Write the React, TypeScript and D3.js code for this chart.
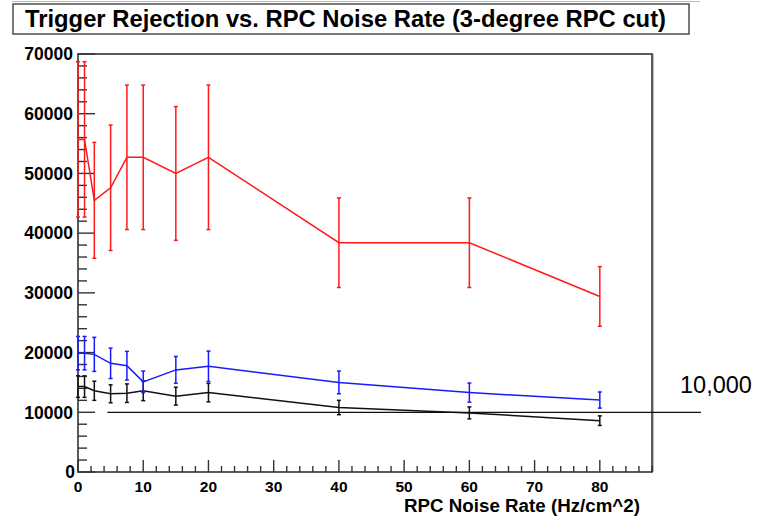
import React from "react";
import * as d3 from "d3";

const noiseRates = [0, 1, 2.5, 5, 7.5, 10, 15, 20, 40, 60, 80];
const redValues = [55700, 55700, 45500, 47600, 52700, 52700, 50000, 52700, 38400, 38400, 29400];
const redErrors = [13000, 13000, 9700, 10500, 12100, 12100, 11200, 12100, 7500, 7500, 5000];
const blueValues = [19900, 19900, 19700, 18200, 17800, 15100, 17100, 17700, 15000, 13300, 12050];
const blueErrors = [2800, 2800, 2850, 2550, 2400, 1800, 2250, 2550, 1900, 1600, 1350];
const blackValues = [14300, 14300, 13600, 13100, 13200, 13600, 12700, 13300, 10800, 9900, 8600];
const blackErrors = [1800, 1800, 1600, 1500, 1550, 1650, 1500, 1550, 1200, 1000, 800];

const xTickLabels = [0, 10, 20, 30, 40, 50, 60, 70, 80];
const yTickLabels = [0, 10000, 20000, 30000, 40000, 50000, 60000, 70000];
const thresholdValue = 10000;
const thresholdStart = 4.5;
const thresholdLabel = "10,000";
const title = "Trigger Rejection vs. RPC Noise Rate (3-degree RPC cut)";
const xTitle = "RPC Noise Rate (Hz/cm^2)";

const W = 757;
const H = 519;
const L = 78, R = 652, T = 54, B = 472;

export default function App() {
  const x = d3.scaleLinear().domain([0, 88]).range([L, R]);
  const y = d3.scaleLinear().domain([0, 70000]).range([B, T]);
  const line = d3.line<[number, number]>().x((d) => x(d[0])).y((d) => y(d[1]));

  const series = [
    { vals: blackValues, errs: blackErrors, color: "#111" },
    { vals: blueValues, errs: blueErrors, color: "#1a1aff" },
    { vals: redValues, errs: redErrors, color: "#ff1a1a" },
  ];

  const xMinor = d3.range(0, 88.01, 2);
  const yMinor = d3.range(0, 70001, 2000);
  const font = "'Liberation Sans', Arial, Helvetica, sans-serif";

  return (
    <svg
      width={W}
      height={H}
      style={{ position: "absolute", left: 0, top: 0, background: "#fff" }}
      fontFamily={font}
    >
      <rect x={0} y={0} width={W} height={H} fill="#fff" />
      {/* top grey line and title box */}
      <line x1={12} x2={700} y1={1.5} y2={1.5} stroke="#bbb" strokeWidth={1} />
      <rect x={13} y={4} width={676} height={30} fill="#fff" stroke="#333" strokeWidth={1.3} />
      <text
        x={25}
        y={27}
        fontSize={23}
        fontWeight="bold"
        textLength={641}
        lengthAdjust="spacingAndGlyphs"
        fill="#000"
      >
        {title}
      </text>

      {/* frame */}
      <line x1={R + 1.5} x2={R + 1.5} y1={T} y2={B} stroke="#bbb" strokeWidth={1} />
      <rect x={L} y={T} width={R - L} height={B - T} fill="none" stroke="#333" strokeWidth={1.6} />

      {/* y ticks */}
      {yMinor.map((v) => {
        const major = v % 10000 === 0;
        return (
          <line key={"yt" + v} x1={L} x2={L + (major ? 17 : 9)} y1={y(v)} y2={y(v)} stroke="#333" strokeWidth={1.4} />
        );
      })}
      {/* x ticks */}
      {xMinor.map((v) => {
        const major = v % 10 === 0;
        return (
          <line key={"xt" + v} x1={x(v)} x2={x(v)} y1={B} y2={B - (major ? 12 : 6)} stroke="#333" strokeWidth={1.4} />
        );
      })}

      {/* y labels */}
      {yTickLabels.map((v) => (
        <text
          key={"yl" + v}
          x={v === 0 ? 75 : 73}
          y={y(v)}
          dy="0.36em"
          textAnchor="end"
          fontSize={17.5}
          fontWeight="bold"
        >
          {v}
        </text>
      ))}
      {/* x labels */}
      {xTickLabels.map((v) => (
        <text key={"xl" + v} x={x(v)} y={492} textAnchor="middle" fontSize={15.5} fontWeight="bold">
          {v}
        </text>
      ))}
      <text x={640} y={512} textAnchor="end" fontSize={17.5} fontWeight="bold" textLength={236} lengthAdjust="spacingAndGlyphs">
        {xTitle}
      </text>

      {/* threshold line */}
      <line
        x1={x(thresholdStart)}
        x2={701}
        y1={y(thresholdValue)}
        y2={y(thresholdValue)}
        stroke="#111"
        strokeWidth={1.2}
      />
      <text x={680} y={393} fontSize={23.5} fill="#000">
        {thresholdLabel}
      </text>

      {/* series */}
      {series.map((s, si) => {
        const pts = noiseRates.map((r, i) => [r, s.vals[i]] as [number, number]);
        return (
          <g key={"s" + si}>
            <path d={line(pts) || ""} fill="none" stroke={s.color} strokeWidth={1.5} />
            {noiseRates.map((r, i) => {
              const cx = x(r);
              const y1 = y(s.vals[i] + s.errs[i]);
              const y2 = y(s.vals[i] - s.errs[i]);
              return (
                <g key={"e" + i} stroke={s.color} strokeWidth={1.5}>
                  <line x1={cx} x2={cx} y1={y1} y2={y2} />
                  <line x1={cx - 2} x2={cx + 2} y1={y1} y2={y1} />
                  <line x1={cx - 2} x2={cx + 2} y1={y2} y2={y2} />
                </g>
              );
            })}
          </g>
        );
      })}
    </svg>
  );
}
